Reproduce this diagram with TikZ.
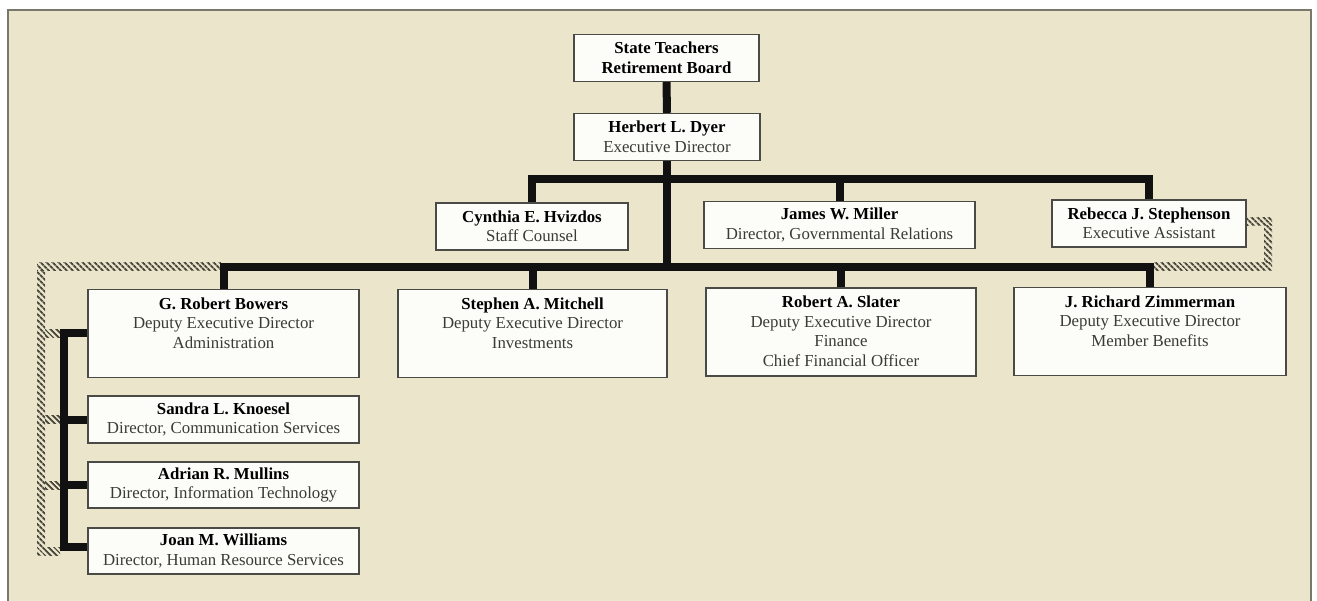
\documentclass[tikz,border=0pt]{standalone}
\usepackage{fontspec}
\setmainfont{Liberation Serif}
\usetikzlibrary{patterns.meta}
\definecolor{paper}{HTML}{EAE5CB}
\definecolor{boxfill}{HTML}{FCFCF8}
\definecolor{boxline}{HTML}{4A4A46}
\definecolor{frame}{HTML}{7A786C}
\definecolor{hatchc}{HTML}{4A483C}
\definecolor{titlec}{HTML}{3A3A36}
\definecolor{conc}{HTML}{111111}
\newcommand{\nm}[1]{{\bfseries\color{black}#1}}
\newcommand{\toptext}[1]{\parbox[c][76pt][t]{262pt}{\centering\strut#1}}
\tikzset{
  orgbox/.style={draw=boxline, line width=1.4pt, fill=boxfill, align=center,
    font=\fontsize{16.8}{19.5}\selectfont, text=titlec, inner sep=0pt},
  smallbox/.style={orgbox, minimum height=47pt},
  bigbox/.style={orgbox, minimum height=88pt},
  conn/.style={draw=conc, line width=8pt, line join=miter, line cap=butt},
  hatchband/.style={pattern={Lines[angle=-45,distance=4pt,line width=2pt]}, pattern color=hatchc}
}
\begin{document}
\begin{tikzpicture}[x=1pt,y=-1pt]
\useasboundingbox (0,0) rectangle (1317,601);
\fill[white] (0,0) rectangle (1317,601);
\fill[paper] (8,10) rectangle (1311,605);
\draw[frame, line width=1.4pt] (8,605) -- (8,10) -- (1311,10) -- (1311,605);

% hatched dotted-line relations
\fill[hatchband] (37,263) rectangle (221,271);
\fill[hatchband] (37,271) rectangle (45,555);
\foreach \yy in {333.5,419.5,485,551}{\fill[hatchband] (45,\yy-4) rectangle (60,\yy+4);}
\fill[hatchband] (1246,218) rectangle (1272,226);
\fill[hatchband] (1264,226) rectangle (1272,263);
\fill[hatchband] (1154,263) rectangle (1272,271);

% boxes
\node[smallbox, minimum width=185pt] (board) at (666.5,58) {\nm{State Teachers}\\\nm{Retirement Board}};
\node[smallbox, minimum width=186pt] (dyer) at (667,137) {\nm{Herbert L. Dyer}\\Executive Director};
\node[smallbox, minimum width=192pt] (cyn) at (532,226.5) {\nm{Cynthia E. Hvizdos}\\Staff Counsel};
\node[smallbox, minimum width=271pt] (james) at (839.5,225) {\nm{James W. Miller}\\Director, Governmental Relations};
\node[smallbox, minimum width=194pt] (rebecca) at (1149,223.5) {\nm{Rebecca J. Stephenson}\\Executive Assistant};
\node[bigbox, minimum width=271pt] (bowers) at (223.5,333.5) {\toptext{\nm{G. Robert Bowers}\\Deputy Executive Director\\Administration}};
\node[bigbox, minimum width=269pt] (stephen) at (532.5,333.5) {\toptext{\nm{Stephen A. Mitchell}\\Deputy Executive Director\\Investments}};
\node[bigbox, minimum width=270pt] (slater) at (841,332) {\toptext{\nm{Robert A. Slater}\\Deputy Executive Director\\Finance\\Chief Financial Officer}};
\node[bigbox, minimum width=272pt] (zimm) at (1150,331.5) {\toptext{\nm{J. Richard Zimmerman}\\Deputy Executive Director\\Member Benefits}};
\node[smallbox, minimum width=271pt] (sandra) at (223.5,419.5) {\nm{Sandra L. Knoesel}\\Director, Communication Services};
\node[smallbox, minimum width=271pt, minimum height=46pt] (adrian) at (223.5,485) {\nm{Adrian R. Mullins}\\Director, Information Technology};
\node[smallbox, minimum width=271pt, minimum height=46pt] (joan) at (223.5,551) {\nm{Joan M. Williams}\\Director, Human Resource Services};

% connectors
\coordinate (t1) at (667,179);
\coordinate (t2) at (667,267);
\coordinate (lv) at (64,0);
\draw[conn] (board.south) -- (dyer.north);
\draw[conn] (dyer.south) -- (t2);
\draw[conn] (cyn.north) |- (t1) -| (rebecca.north);
\draw[conn] (james.north) -- (james.north |- t1);
\draw[conn] (bowers.north) |- (t2) -| (zimm.north);
\draw[conn] (stephen.north) -- (stephen.north |- t2);
\draw[conn] (slater.north) -- (slater.north |- t2);
\draw[conn] (bowers.west) -- (bowers.west -| lv) -- ([yshift=4pt]joan.west -| lv) -- ([yshift=4pt]joan.west);
\draw[conn] (sandra.west) -- (sandra.west -| lv);
\draw[conn] (adrian.west) -- (adrian.west -| lv);
\end{tikzpicture}
\end{document}
